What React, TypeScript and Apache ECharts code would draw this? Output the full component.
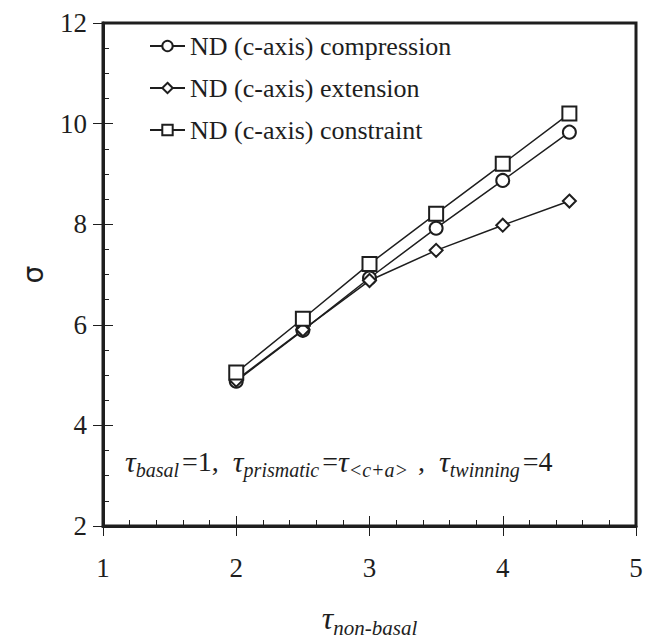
import React, { useEffect, useRef } from "react";
import * as echarts from "echarts";

const xValues = [2, 2.5, 3, 3.5, 4, 4.5];
const compression = [4.88, 5.89, 6.93, 7.92, 8.87, 9.83];
const extension = [4.9, 5.9, 6.88, 7.48, 7.98, 8.46];
const constraint = [5.05, 6.12, 7.21, 8.21, 9.2, 10.2];
const seriesNames = [
  "ND (c-axis) compression",
  "ND (c-axis) extension",
  "ND (c-axis) constraint",
];

const INK = "#1e1e1e";
const SERIF = "Liberation Serif";

export default function App() {
  const ref = useRef<HTMLDivElement>(null);
  useEffect(() => {
    if (!ref.current) return;
    const chart = echarts.init(ref.current, null, { renderer: "svg" });
    const pts = (arr: number[]) => xValues.map((x, i) => [x, arr[i]]);
    const mk = (name: string, arr: number[], symbol: string, size: number) => ({
      name,
      type: "line",
      data: pts(arr),
      symbol,
      symbolSize: size,
      showSymbol: true,
      lineStyle: { color: INK, width: 1.5 },
      itemStyle: { color: INK, borderColor: INK, borderWidth: 1.6 },
      z: 3,
    });
    chart.setOption({
      animation: false,
      backgroundColor: "#ffffff",
      textStyle: { fontFamily: SERIF },
      grid: {
        left: 103,
        right: 26,
        top: 23,
        bottom: 116,
        show: true,
        borderColor: INK,
        borderWidth: 3,
        containLabel: false,
      },
      legend: {
        show: true,
        orient: "vertical",
        left: 144,
        top: 28,
        itemWidth: 35,
        itemHeight: 13,
        itemGap: 16,
        data: seriesNames,
        textStyle: { fontSize: 26, fontFamily: SERIF, color: INK },
        selectedMode: false,
      },
      xAxis: [
        {
          type: "value",
          min: 1,
          max: 5,
          interval: 1,
          position: "bottom",
          axisLine: { show: true, lineStyle: { color: INK, width: 3 } },
          axisTick: { show: true, inside: false, length: 10, lineStyle: { color: INK, width: 1 } },
          axisLabel: { fontSize: 27, fontFamily: SERIF, color: INK, margin: 28 },
          splitLine: { show: false },
          name: "{t|τ}{s|non-basal}",
          nameLocation: "middle",
          nameGap: 72,
          nameTextStyle: {
            rich: {
              t: { fontSize: 32, fontStyle: "italic", fontFamily: SERIF, color: INK, lineHeight: 40, verticalAlign: "middle" },
              s: { fontSize: 21, fontStyle: "italic", fontFamily: SERIF, color: INK, verticalAlign: "bottom", lineHeight: 20 },
            },
          },
        },
        {
          type: "value",
          min: 1,
          max: 5,
          interval: 1,
          position: "bottom",
          axisLine: { show: false },
          axisTick: { show: true, inside: true, length: 10, lineStyle: { color: INK, width: 1 } },
          minorTick: { show: true, splitNumber: 5, length: 6, lineStyle: { color: INK, width: 1 } },
          axisLabel: { show: false },
          splitLine: { show: false },
        },
      ],
      yAxis: [
        {
          type: "value",
          min: 2,
          max: 12,
          interval: 2,
          position: "left",
          axisLine: { show: true, lineStyle: { color: INK, width: 3 } },
          axisTick: { show: true, inside: false, length: 10, lineStyle: { color: INK, width: 1 } },
          axisLabel: { fontSize: 27, fontFamily: SERIF, color: INK, margin: 16 },
          splitLine: { show: false },
          name: "σ",
          nameLocation: "middle",
          nameGap: 56,
          nameRotate: 90,
          nameTextStyle: { fontSize: 28, fontFamily: "DejaVu Sans", color: INK },
        },
        {
          type: "value",
          min: 2,
          max: 12,
          interval: 2,
          position: "left",
          axisLine: { show: false },
          axisTick: { show: true, inside: true, length: 10, lineStyle: { color: INK, width: 1 } },
          minorTick: { show: true, splitNumber: 4, length: 6, lineStyle: { color: INK, width: 1 } },
          axisLabel: { show: false },
          splitLine: { show: false },
        },
      ],
      graphic: [
        {
          type: "text",
          left: 125,
          top: 446,
          style: {
            text:
              "{t|τ}{s|basal}{n|=1,  }{t|τ}{s|prismatic}{n|=}{t|τ}{s|<c+a>}{n| ,  }{t|τ}{s|twinning}{n|=4}",
            rich: {
              t: { fontSize: 30, fontStyle: "italic", fontFamily: SERIF, fill: INK, lineHeight: 38, verticalAlign: "middle" },
              s: { fontSize: 20, fontStyle: "italic", fontFamily: SERIF, fill: INK, verticalAlign: "bottom", lineHeight: 20, padding: [0, 3, 0, 0] },
              n: { fontSize: 28, fontFamily: SERIF, fill: INK, verticalAlign: "middle", lineHeight: 38 },
            },
          },
        },
      ],
      series: [
        mk(seriesNames[0], compression, "emptyCircle", 13),
        mk(seriesNames[1], extension, "emptyDiamond", 13),
        mk(seriesNames[2], constraint, "emptyRect", 14),
      ],
    });
    return () => chart.dispose();
  }, []);
  return (
    <div
      ref={ref}
      style={{ position: "absolute", left: 0, top: 0, width: 662, height: 643, background: "#fff" }}
    />
  );
}
